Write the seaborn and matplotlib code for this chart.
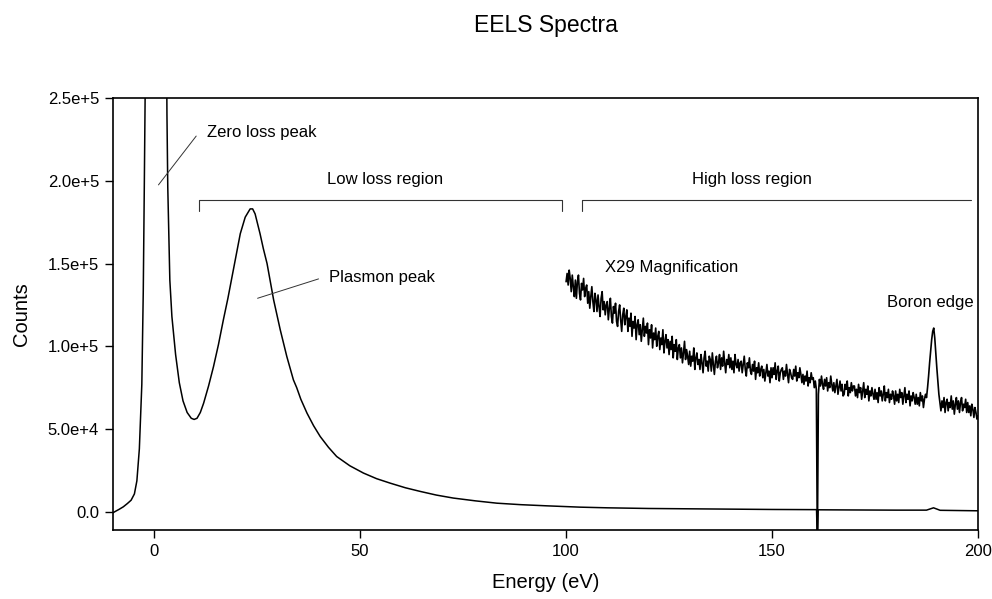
import matplotlib
matplotlib.use("Agg")
import matplotlib.pyplot as plt
import seaborn as sns
import numpy as np
import pandas as pd
from matplotlib.ticker import FuncFormatter

# ---- data (counts in thousands) ----
main_energy = [-10, -9.6, -8.5, -7.5, -6.5, -5.6, -4.8, -4.2, -3.6, -3.0, -2.65, -2.4, -2.2,
               -1.8, 0, 2.5, 3.1, 3.3, 3.8, 4.3, 5.2, 6.1, 7.0, 8.0, 9.0, 9.7, 10.4, 11.2,
               12.0, 13.2, 14.4, 15.6, 16.8, 17.9, 18.9, 19.9, 20.9, 22.1, 23.3, 23.9, 24.5,
               25.7, 26.5, 27.4, 28.2, 29.0, 30.6, 32.2, 33.8, 34.6, 35.6, 37.1, 38.7, 40.3,
               42.3, 44.3, 47.5, 50.8, 54, 57.3, 61, 64.6, 68.5, 72.6, 78, 83.2, 89, 95.3,
               103.4, 110, 120, 130, 140, 150, 160, 160.8, 161.0, 161.2, 170, 180, 187.5,
               189.2, 190.8, 200]
main_counts_k = [-0.6, 0, 1.5, 3, 5, 7, 10.8, 18.7, 38, 77, 133, 196, 250,
                 500, 1500, 500, 240, 196, 140, 118, 95, 78, 67, 60, 56.5, 55.8, 56.5, 60,
                 65.6, 76, 87.7, 101, 116, 129, 142, 155, 168, 178, 183, 183, 180,
                 168, 159, 150, 139, 128, 110, 93.8, 79.7, 75, 68, 59.6, 52, 45.5,
                 39, 33.4, 27.8, 23.4, 20, 17.3, 14.5, 12.3, 10.1, 8.3, 6.6, 5.2, 4.3, 3.6,
                 2.8, 2.4, 2.0, 1.8, 1.6, 1.4, 1.3, 1.3, -20, 1.2, 1.1, 1.0, 1.0,
                 2.4, 0.9, 0.6]

mag_start, mag_step = 100.0, 0.25
mag_counts_k = [
    139, 144, 137, 146, 141, 133, 143, 136, 130, 140,
    129, 139, 143, 132, 128, 138, 134, 141, 130, 135,
    137, 126, 133, 123, 130, 136, 127, 121, 132, 128,
    121, 131, 124, 118, 129, 133, 122, 127, 119, 125,
    127, 116, 123, 129, 118, 114, 124, 120, 126, 115,
    112, 121, 125, 116, 109, 119, 123, 113, 118, 122,
    109, 117, 112, 120, 106, 115, 111, 118, 104, 113,
    116, 107, 113, 103, 110, 117, 106, 112, 108, 114,
    101, 110, 105, 113, 99, 108, 104, 111, 100, 106,
    109, 98, 105, 101, 110, 96, 103, 107, 99, 104,
    95, 103, 98, 106, 93, 101, 97, 104, 92, 99,
    101, 93, 99, 90, 96, 103, 92, 98, 94, 89,
    97, 88, 94, 91, 99, 86, 93, 96, 89, 92,
    86, 95, 90, 84, 93, 97, 88, 91, 85, 94,
    92, 85, 96, 89, 83, 91, 94, 87, 90, 95,
    86, 93, 88, 97, 90, 84, 92, 89, 95, 87,
    93, 86, 91, 84, 95, 89, 87, 92, 85, 90,
    91, 84, 89, 94, 86, 82, 90, 87, 93, 85,
    83, 89, 85, 91, 80, 87, 84, 90, 82, 86,
    88, 81, 86, 79, 84, 89, 82, 85, 78, 87,
    81, 87, 83, 90, 80, 85, 88, 79, 84, 86,
    87, 80, 85, 82, 89, 83, 78, 86, 84, 81,
    80, 86, 82, 88, 79, 84, 81, 87, 83, 78,
    83, 77, 82, 79, 85, 76, 81, 78, 84, 80,
    81, 75, 79, 74, -20, 71, 80, 76, 82, 77,
    74, 80, 76, 81, 73, 78, 75, 82, 77, 73,
    78, 72, 76, 80, 71, 75, 79, 73, 77, 70,
    71, 77, 74, 79, 70, 75, 72, 78, 73, 76,
    76, 70, 74, 69, 77, 72, 75, 68, 73, 78,
    69, 74, 71, 76, 67, 73, 70, 75, 71, 68,
    74, 68, 72, 66, 75, 70, 73, 67, 71, 76,
    67, 72, 69, 74, 66, 71, 68, 73, 70, 65,
    73, 67, 71, 66, 74, 69, 72, 65, 70, 75,
    66, 71, 68, 73, 64, 70, 67, 72, 69, 65,
    71, 65, 69, 64, 72, 67, 70, 63, 68, 71,
    69, 75, 82, 90, 97, 104, 109, 111, 105, 96,
    87, 79, 71, 66, 61, 67, 63, 69, 60, 66,
    68, 61, 66, 63, 70, 62, 67, 59, 65, 69,
    62, 67, 60, 66, 69, 61, 65, 63, 68, 60,
    66, 60, 64, 58, 65, 62, 57, 63, 60, 56,
    58]
mag_energy = [mag_start + i * mag_step for i in range(len(mag_counts_k))]

x_ticks = [0, 50, 100, 150, 200]
y_ticks = [0, 5e4, 1e5, 1.5e5, 2e5, 2.5e5]

main_df = pd.DataFrame({"Energy": main_energy, "Counts": np.array(main_counts_k) * 1000})
mag_df = pd.DataFrame({"Energy": mag_energy, "Counts": np.array(mag_counts_k) * 1000})

# ---- style ----
sns.set_style("ticks")
plt.rcParams['font.family'] = ['Liberation Sans', 'DejaVu Sans']
plt.rcParams['text.color'] = 'black'
plt.rcParams['axes.labelcolor'] = 'black'

fig = plt.figure(figsize=(9.92, 5.99), dpi=100)
ax = fig.add_axes([0.1139, 0.1152, 0.8720, 0.7212])

sns.lineplot(data=main_df, x="Energy", y="Counts", ax=ax, color="black", lw=1.1,
             estimator=None, sort=False)
sns.lineplot(data=mag_df, x="Energy", y="Counts", ax=ax, color="black", lw=1.2,
             estimator=None, sort=False)

ax.set_xlim(-10, 200)
ax.set_ylim(-1.1e4, 2.5e5)
ax.set_xticks(x_ticks)
ax.set_yticks(y_ticks)


def yfmt(v, pos):
    if v == 0:
        return "0.0"
    exp = int(np.floor(np.log10(abs(v))))
    return f"{v / 10**exp:.1f}e+{exp}"


ax.yaxis.set_major_formatter(FuncFormatter(yfmt))
ax.tick_params(axis="both", direction="out", length=6, width=1, labelsize=12,
               colors="black", pad=4)
for s in ax.spines.values():
    s.set_linewidth(1.2)
    s.set_color("black")

ax.set_xlabel("Energy (eV)", fontsize=14.5, labelpad=10)
ax.set_ylabel("Counts", fontsize=14.5, labelpad=12)
fig.text(0.5499, 0.958, "EELS Spectra", ha="center", va="center", fontsize=16.5)

# annotations
fs = 12
ax.plot([1.04, 10.2], [197.5e3, 227e3], color="#333333", lw=0.7)
ax.text(12.9, 228.9e3, "Zero loss peak", fontsize=fs, va="center", ha="left")
ax.plot([25.1, 39.9], [129e3, 140.7e3], color="#333333", lw=0.7)
ax.text(42.5, 141.3e3, "Plasmon peak", fontsize=fs, va="center", ha="left")

ax.plot([10.9, 10.9, 99.0, 99.0], [182e3, 188.4e3, 188.4e3, 182e3], color="#333333", lw=0.8)
ax.text(56, 200.5e3, "Low loss region", fontsize=fs, va="center", ha="center")
ax.plot([103.8, 103.8, 198.2], [182e3, 188.4e3, 188.4e3], color="#333333", lw=0.8)
ax.text(145.1, 200.5e3, "High loss region", fontsize=fs, va="center", ha="center")

ax.text(109.5, 147.3e3, "X29 Magnification", fontsize=fs, va="center", ha="left")
ax.text(177.9, 126.2e3, "Boron edge", fontsize=fs, va="center", ha="left")

fig.savefig("out.png", dpi=100)
